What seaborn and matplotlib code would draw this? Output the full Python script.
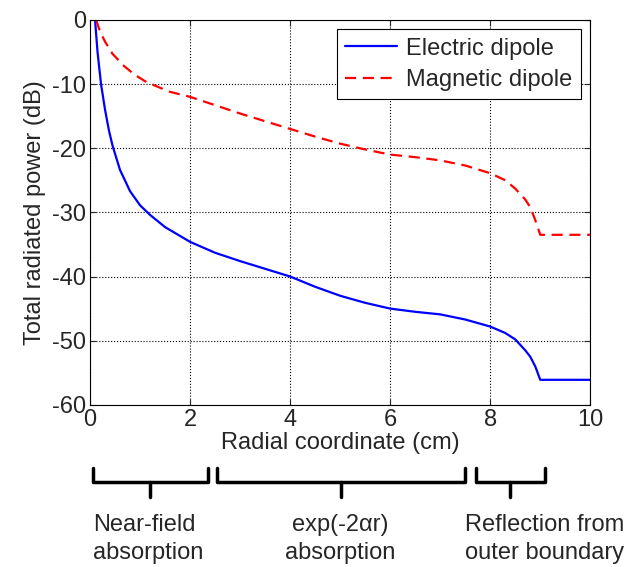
import numpy as np
import pandas as pd
import matplotlib
matplotlib.use("Agg")
import matplotlib.pyplot as plt
import matplotlib.transforms as mtransforms
import seaborn as sns

# electric dipole
r_elec = [0.1, 0.15, 0.22, 0.3, 0.38, 0.45, 0.6, 0.8, 1.0, 1.2, 1.5, 2.0, 2.5, 3.0, 3.5, 4.0,
          4.5, 5.0, 5.5, 6.0, 6.5, 7.0, 7.5, 8.0, 8.3, 8.5, 8.7, 8.8, 8.9, 9.0, 10.0]
p_elec = [0.0, -5.0, -10.0, -14.0, -17.3, -19.6, -23.4, -26.7, -28.9, -30.4, -32.3, -34.6,
          -36.3, -37.6, -38.8, -40.0, -41.6, -43.0, -44.1, -45.0, -45.5, -45.9, -46.7, -47.8,
          -48.8, -49.8, -51.5, -52.5, -54.0, -56.1, -56.1]

# magnetic dipole
r_mag = [0.12, 0.2, 0.3, 0.45, 0.68, 0.9, 1.13, 1.59, 2.0, 2.5, 3.0, 3.5, 4.0, 4.5, 5.0, 5.5, 6.0,
         6.5, 7.0, 7.5, 8.0, 8.3, 8.5, 8.7, 8.8, 8.9, 9.0, 10.0]
p_mag = [0.0, -1.8, -3.4, -5.3, -7.2, -8.6, -9.7, -11.2, -12.0, -13.3, -14.6, -15.8, -17.0, -18.2,
         -19.3, -20.2, -21.0, -21.4, -21.9, -22.7, -23.9, -25.0, -26.3, -28.0, -29.2,
         -31.2, -33.5, -33.5]

regions = ["Near-field\nabsorption", "exp(-2\u03b1r)\nabsorption", "Reflection from\nouter boundary"]
brace_ranges = [(0.06, 2.35), (2.54, 7.49), (7.71, 9.1)]

df_e = pd.DataFrame({"r": r_elec, "p": p_elec})
df_m = pd.DataFrame({"r": r_mag, "p": p_mag})

sns.set_style("ticks")
plt.rcParams["font.family"] = ["Liberation Sans", "DejaVu Sans"]
plt.rcParams["xtick.direction"] = "in"
plt.rcParams["ytick.direction"] = "in"
plt.rcParams["axes.unicode_minus"] = False

fs = 17
fig = plt.figure(figsize=(6.43, 5.67), dpi=100)
ax = fig.add_axes([0.14, 0.286, 0.778, 0.679])

sns.lineplot(data=df_e, x="r", y="p", ax=ax, color="#0000ff", lw=1.6, label="Electric dipole")
sns.lineplot(data=df_m, x="r", y="p", ax=ax, color="#ff0000", lw=1.6, label="Magnetic dipole")
ax.lines[1].set_dashes([5, 3])

ax.set_xlim(0, 10)
ax.set_ylim(-60, 0)
ax.set_xticks(range(0, 11, 2))
ax.set_yticks(range(-60, 1, 10))
ax.tick_params(labelsize=fs, top=True, right=True, length=4, width=0.8, pad=3)
ax.grid(True, linestyle=":", color="black", linewidth=0.8)
for s in ax.spines.values():
    s.set_color("black")
    s.set_linewidth(0.8)
ax.set_xlabel("Radial coordinate (cm)", fontsize=fs, labelpad=1)
ax.set_ylabel("Total radiated power (dB)", fontsize=fs, labelpad=4)

leg = ax.legend(loc="upper right", fontsize=fs, frameon=True, fancybox=False,
                edgecolor="black", framealpha=1, borderaxespad=0.4, handlelength=2.2,
                borderpad=0.35, labelspacing=0.4, handletextpad=0.4)
leg.get_frame().set_linewidth(0.8)

# braces under the axis
tr = mtransforms.blended_transform_factory(ax.transData, fig.transFigure)
y_top, y_mid, y_tip = 0.1746, 0.150, 0.1235
for (x0, x1) in brace_ranges:
    xc = (x0 + x1) / 2
    ax.plot([x0, x0, x1, x1], [y_top, y_mid, y_mid, y_top], color="black", lw=2.5,
            transform=tr, clip_on=False, solid_joinstyle="round")
    ax.plot([xc, xc], [y_mid, y_tip], color="black", lw=2.5, transform=tr, clip_on=False)

ax.text(0.06, 0.006, regions[0], transform=tr, fontsize=fs, ha="left", va="bottom", linespacing=1.3)
ax.text(5.0, 0.006, regions[1], transform=tr, fontsize=fs, ha="center", va="bottom",
        multialignment="center", linespacing=1.3)
ax.text(7.5, 0.006, regions[2], transform=tr, fontsize=fs, ha="left", va="bottom", linespacing=1.3)

fig.savefig("out.png", dpi=100)
